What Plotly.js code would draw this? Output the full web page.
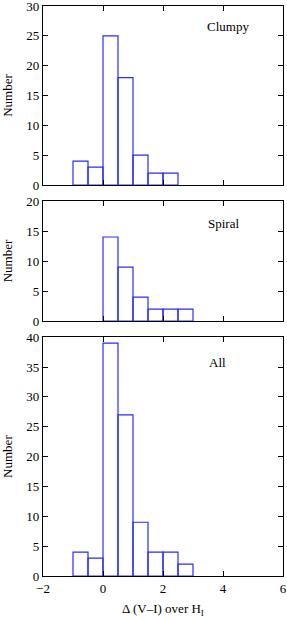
<!DOCTYPE html>
<html>
<head>
<meta charset="utf-8">
<script src="https://cdn.plot.ly/plotly-3.0.1.min.js"></script>
<style>html,body{margin:0;padding:0;background:#fff;}#chart{width:287px;height:621px;}</style>
</head>
<body>
<div id="chart"></div>
<script>
// Histogram bins (left edges), bin width 0.5
const binStarts = [-1.0, -0.5, 0.0, 0.5, 1.0, 1.5, 2.0, 2.5];
const binWidth = 0.5;
const clumpyCounts = [4, 3, 25, 18, 5, 2, 2, 0];
const spiralCounts = [0, 0, 14, 9, 4, 2, 2, 2];
const allCounts = [4, 3, 39, 27, 9, 4, 4, 2];
const panelLabels = ["Clumpy", "Spiral", "All"];
const xTicks = [-2, 0, 2, 4, 6];

const lineColor = '#2a2aff';
function barTrace(counts, xa, ya) {
  const xs = [], ys = [];
  counts.forEach((c, i) => { if (c > 0) { xs.push(binStarts[i]); ys.push(c); } });
  return {
    type: 'bar', x: xs, y: ys, width: binWidth, offset: 0,
    xaxis: xa, yaxis: ya,
    marker: {color: 'rgba(0,0,0,0)', line: {color: lineColor, width: 1.2}},
    hoverinfo: 'x+y', showlegend: false
  };
}

const font = {family: 'Liberation Serif, Times New Roman, serif', size: 13, color: '#000'};
function xax(anchor, showLabels) {
  return {
    anchor: anchor, range: [-2, 6], tickvals: xTicks, showticklabels: showLabels,
    ticks: 'inside', ticklen: 5, tickcolor: '#000', mirror: 'ticks',
    showline: true, linecolor: '#000', linewidth: 1.2, showgrid: false, zeroline: false,
    tickfont: font, ticklabeloverflow: 'allow'
  };
}
function yax(anchor, domain, maxv) {
  return {
    anchor: anchor, domain: domain, range: [0, maxv], dtick: 5, tick0: 0,
    ticks: 'inside', ticklen: 5, tickcolor: '#000', mirror: 'ticks',
    showline: true, linecolor: '#000', linewidth: 1.2, showgrid: false, zeroline: false,
    tickfont: font, ticklabeloverflow: 'allow',
    title: {text: 'Number', font: font, standoff: 10}
  };
}

const data = [
  barTrace(clumpyCounts, 'x', 'y'),
  barTrace(spiralCounts, 'x2', 'y2'),
  barTrace(allCounts, 'x3', 'y3')
];

const xa3 = xax('y3', true);
xa3.title = {text: 'Δ (V–I) over H<sub>I</sub>', font: font, standoff: 9};

const layout = {
  width: 287, height: 621,
  margin: {l: 43, r: 4, t: 6, b: 45},
  paper_bgcolor: '#fff', plot_bgcolor: '#fff',
  font: font, barmode: 'overlay',
  xaxis: xax('y', false),
  xaxis2: xax('y2', false),
  xaxis3: xa3,
  yaxis: yax('x', [0.686, 1.0], 30),
  yaxis2: yax('x2', [0.447, 0.658], 20),
  yaxis3: yax('x3', [0, 0.419], 40),
  annotations: [
    {text: panelLabels[0], x: 4.17, y: 26.6, xref: 'x', yref: 'y', showarrow: false, font: font},
    {text: panelLabels[1], x: 4.0, y: 16.2, xref: 'x2', yref: 'y2', showarrow: false, font: font},
    {text: panelLabels[2], x: 3.8, y: 35.8, xref: 'x3', yref: 'y3', showarrow: false, font: font}
  ]
};

Plotly.newPlot('chart', data, layout, {displayModeBar: false, staticPlot: true});
</script>
</body>
</html>
